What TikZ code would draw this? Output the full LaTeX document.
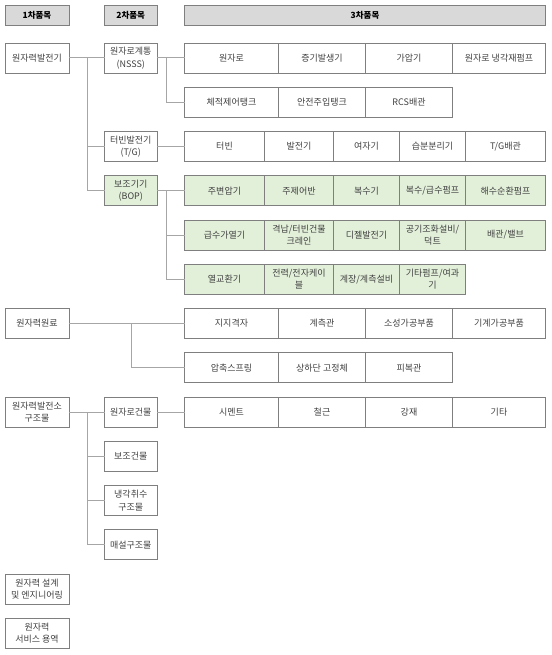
\documentclass[tikz,border=0pt]{standalone}
\usepackage{fontspec}
\setmainfont{Noto Sans CJK KR}
\usetikzlibrary{positioning}
\definecolor{boxline}{HTML}{7F7F7F}
\definecolor{connline}{HTML}{A6A6A6}
\definecolor{headfill}{HTML}{D9D9D9}
\definecolor{bopfill}{HTML}{E2EFD9}
\begin{document}
\begin{tikzpicture}[x=1pt,y=-1pt,
  box/.style={draw=boxline, line width=0.8pt, minimum height=30pt, inner sep=1pt, outer sep=0pt,
    align=center, text=black!75, font=\fontsize{9}{12.5}\selectfont},
  head/.style={box, fill=headfill, minimum height=20pt, text=black, font=\fontsize{8.5}{10}\selectfont\bfseries},
  lvone/.style={box, minimum width=64pt},
  lvtwo/.style={box, minimum width=52.5pt},
  cell/.style={box, minimum width=#1},
  bop/.style={fill=bopfill},
  conn/.style={draw=connline, line width=1pt}]
\useasboundingbox (0,0) rectangle (551,655);

% headers
\node[head, minimum width=64pt] (h1) at (37,15) {1차품목};
\node[head, minimum width=52.5pt] (h2) at (130.75,15) {2차품목};
\node[head, minimum width=361pt] (h3) at (365,15) {3차품목};

% 1차
\node[lvone] (npp) at (37,58) {원자력발전기};
\node[lvone] (fuel) at (37,323.5) {원자력원료};
\node[lvone] (str) at (37,412) {원자력발전소\\구조물};
\node[lvone] (design) at (37,589) {원자력 설계\\및 엔지니어링};
\node[lvone] (service) at (37,633.25) {원자력\\서비스 용역};

% 2차
\node[lvtwo] (nsss) at (130.75,58) {원자로계통\\(NSSS)};
\node[lvtwo] (tg) at (130.75,146.5) {터빈발전기\\(T/G)};
\node[lvtwo,bop] (bopn) at (130.75,190.75) {보조기기\\(BOP)};
\node[lvtwo] (rbld) at (130.75,412) {원자로건물};
\node[lvtwo] (aux) at (130.75,456.25) {보조건물};
\node[lvtwo] (cool) at (130.75,500.5) {냉각취수\\구조물};
\node[lvtwo] (bur) at (130.75,544.75) {매설구조물};

% 3차 - NSSS
\node[cell=94pt, anchor=west] (r1a) at (184.5,58) {원자로};
\node[cell=87pt, right=0pt of r1a] (r1b) {증기발생기};
\node[cell=87pt, right=0pt of r1b] (r1c) {가압기};
\node[cell=93pt, right=0pt of r1c] (r1d) {원자로 냉각재펌프};
\node[cell=94pt, anchor=west] (r2a) at (184.5,102.25) {체적제어탱크};
\node[cell=87pt, right=0pt of r2a] (r2b) {안전주입탱크};
\node[cell=87pt, right=0pt of r2b] (r2c) {RCS배관};

% 3차 - T/G
\node[cell=80pt, anchor=west] (t1a) at (184.5,146.5) {터빈};
\node[cell=69pt, right=0pt of t1a] (t1b) {발전기};
\node[cell=66pt, right=0pt of t1b] (t1c) {여자기};
\node[cell=66pt, right=0pt of t1c] (t1d) {습분분리기};
\node[cell=80pt, right=0pt of t1d] (t1e) {T/G배관};

% 3차 - BOP
\node[cell=80pt, bop, anchor=west] (g1a) at (184.5,190.75) {주변압기};
\node[cell=69pt, bop, right=0pt of g1a] (g1b) {주제어반};
\node[cell=66pt, bop, right=0pt of g1b] (g1c) {복수기};
\node[cell=66pt, bop, right=0pt of g1c] (g1d) {복수/급수펌프};
\node[cell=80pt, bop, right=0pt of g1d] (g1e) {해수순환펌프};
\node[cell=80pt, bop, anchor=west] (g2a) at (184.5,235) {급수가열기};
\node[cell=69pt, bop, right=0pt of g2a] (g2b) {격납/터빈건물\\크레인};
\node[cell=66pt, bop, right=0pt of g2b] (g2c) {디젤발전기};
\node[cell=66pt, bop, right=0pt of g2c] (g2d) {공기조화설비/\\덕트};
\node[cell=80pt, bop, right=0pt of g2d] (g2e) {배관/밸브};
\node[cell=80pt, bop, anchor=west] (g3a) at (184.5,279.25) {열교환기};
\node[cell=69pt, bop, right=0pt of g3a] (g3b) {전력/전자케이\\블};
\node[cell=66pt, bop, right=0pt of g3b] (g3c) {계장/계측설비};
\node[cell=66pt, bop, right=0pt of g3c] (g3d) {기타펌프/여과\\기};

% 3차 - 원료
\node[cell=94pt, anchor=west] (f1a) at (184.5,323.5) {지지격자};
\node[cell=87pt, right=0pt of f1a] (f1b) {계측관};
\node[cell=87pt, right=0pt of f1b] (f1c) {소성가공부품};
\node[cell=93pt, right=0pt of f1c] (f1d) {기계가공부품};
\node[cell=94pt, anchor=west] (f2a) at (184.5,367.75) {압축스프링};
\node[cell=87pt, right=0pt of f2a] (f2b) {상하단 고정체};
\node[cell=87pt, right=0pt of f2b] (f2c) {피복관};

% 3차 - 구조물
\node[cell=94pt, anchor=west] (c1a) at (184.5,412) {시멘트};
\node[cell=87pt, right=0pt of c1a] (c1b) {철근};
\node[cell=87pt, right=0pt of c1b] (c1c) {강재};
\node[cell=93pt, right=0pt of c1c] (c1d) {기타};

% connectors
\coordinate (tr1) at (87,58);
\coordinate (br1) at (166.6,58);
\coordinate (br2) at (166.6,190.75);
\coordinate (br3) at (131,323.5);
\coordinate (tr2) at (87,412);
\draw[conn] (npp) -- (nsss);
\draw[conn] (tr1) |- (tg.west);
\draw[conn] (tr1) |- (bopn.west);
\draw[conn] (nsss) -- (r1a);
\draw[conn] (br1) |- (r2a.west);
\draw[conn] (tg) -- (t1a);
\draw[conn] (bopn) -- (g1a);
\draw[conn] (br2) |- (g2a.west);
\draw[conn] (br2) |- (g3a.west);
\draw[conn] (fuel) -- (f1a);
\draw[conn] (br3) |- (f2a.west);
\draw[conn] (str) -- (rbld);
\draw[conn] (rbld) -- (c1a);
\draw[conn] (tr2) |- (aux.west);
\draw[conn] (tr2) |- (cool.west);
\draw[conn] (tr2) |- (bur.west);
\end{tikzpicture}
\end{document}
